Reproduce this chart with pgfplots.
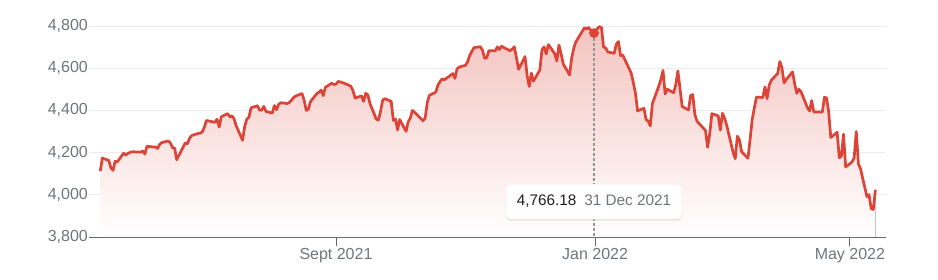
\documentclass[border=0pt]{standalone}
\usepackage{pgfplots}
\usepackage{pgfplotstable}
\pgfplotsset{compat=1.18}
\usepgfplotslibrary{fillbetween}
\usetikzlibrary{shadows}
\usepackage{fontspec}
\setmainfont{Liberation Sans}
\definecolor{gred}{RGB}{219,68,55}
\definecolor{lbl}{RGB}{112,117,122}
\definecolor{gridc}{RGB}{236,236,236}
\definecolor{axc}{RGB}{100,104,108}
\definecolor{dashc}{RGB}{150,150,150}

\pgfplotstableread{
x y
0 4112.50
1 4173.85
4 4163.29
5 4127.83
6 4115.68
7 4159.12
8 4155.86
11 4197.05
12 4188.13
13 4195.99
14 4200.88
15 4204.11
19 4202.04
20 4208.12
21 4192.85
22 4229.89
25 4226.52
26 4227.26
27 4219.55
28 4239.18
29 4247.44
32 4255.15
33 4246.59
34 4223.70
35 4221.86
36 4166.45
39 4224.79
40 4246.44
41 4241.84
42 4266.49
43 4280.70
46 4290.61
47 4291.80
48 4297.50
49 4319.94
50 4352.34
54 4343.54
55 4358.13
56 4320.82
57 4369.55
60 4384.63
61 4369.21
62 4374.30
63 4360.03
64 4327.16
67 4258.49
68 4323.06
69 4358.69
70 4367.48
71 4411.79
74 4422.30
75 4401.46
76 4400.64
77 4419.15
78 4395.26
81 4387.16
82 4423.15
83 4402.66
84 4429.10
85 4436.52
88 4432.35
89 4436.75
90 4447.70
91 4460.83
92 4468.00
95 4479.71
96 4448.08
97 4400.27
98 4405.80
99 4441.67
102 4479.53
103 4486.23
104 4496.19
105 4470.00
106 4509.37
109 4528.79
110 4522.68
111 4524.09
112 4536.95
113 4535.43
117 4520.03
118 4514.07
119 4493.28
120 4458.58
123 4468.73
124 4443.05
125 4480.70
126 4473.75
127 4432.99
130 4357.73
131 4354.19
132 4395.64
133 4448.98
134 4455.48
137 4443.11
138 4352.63
139 4359.46
140 4307.54
141 4357.04
144 4300.46
145 4345.72
146 4363.55
147 4399.76
148 4391.34
151 4361.19
152 4350.65
153 4363.80
154 4438.26
155 4471.37
158 4486.46
159 4519.63
160 4536.19
161 4549.78
162 4544.90
165 4566.48
166 4574.79
167 4551.68
168 4596.42
169 4605.38
172 4613.67
173 4630.65
174 4660.57
175 4680.06
176 4697.53
179 4701.70
180 4685.25
181 4646.71
182 4649.27
183 4682.85
186 4682.80
187 4700.90
188 4688.67
189 4704.54
190 4697.96
193 4682.94
194 4690.70
195 4701.46
197 4594.62
200 4655.27
201 4567.00
202 4513.04
203 4577.10
204 4538.43
207 4591.67
208 4686.75
209 4701.21
210 4667.45
211 4712.02
214 4668.97
215 4634.09
216 4709.85
217 4668.67
218 4620.64
221 4568.02
222 4649.23
223 4696.56
224 4725.79
228 4791.19
229 4786.35
230 4793.06
231 4778.73
232 4766.18
235 4796.56
236 4793.54
237 4700.58
238 4696.05
239 4677.03
242 4670.29
243 4713.07
244 4726.35
245 4659.03
246 4662.85
250 4577.11
251 4532.76
252 4482.73
253 4397.94
256 4410.13
257 4356.45
258 4349.93
259 4326.51
260 4431.85
263 4515.55
264 4546.54
265 4589.38
266 4477.44
267 4500.53
270 4483.87
271 4521.54
272 4587.18
273 4504.08
274 4418.64
277 4401.67
278 4471.07
279 4475.01
280 4380.26
281 4348.87
285 4304.76
286 4225.50
287 4288.70
288 4384.65
291 4373.94
292 4306.26
293 4386.54
294 4363.49
295 4328.87
298 4201.09
299 4170.70
300 4277.88
301 4259.52
302 4204.31
305 4173.11
306 4262.45
307 4357.86
308 4411.67
309 4463.12
312 4461.18
313 4511.61
314 4456.24
315 4520.16
316 4543.06
319 4575.52
320 4631.60
321 4602.45
322 4530.41
323 4545.86
326 4582.64
327 4525.12
328 4481.15
329 4500.21
330 4488.28
333 4412.53
334 4397.45
335 4446.59
336 4392.59
340 4391.69
341 4462.21
342 4459.45
343 4393.66
344 4271.78
347 4296.12
348 4175.20
349 4183.96
350 4287.50
351 4131.93
354 4155.38
355 4175.48
356 4300.17
357 4146.87
358 4123.34
361 3991.24
362 4001.05
363 3935.18
364 3930.08
365 4023.89
}\spx

\begin{document}
\begin{tikzpicture}
\begin{axis}[
  at={(0,0)}, anchor=south west,
  width=797bp, height=211bp, scale only axis,
  xmin=-5.3, xmax=370, ymin=3800, ymax=4800,
  axis x line*=bottom, axis y line*=left,
  y axis line style={draw=none},
  x axis line style={draw=axc, line width=0.9bp, -},
  xtick={111,233,353},
  xticklabels={Sept 2021, Jan 2022, May 2022},
  ytick={3800,4000,4200,4400,4600,4800},
  yticklabels={{3,800},{4,000},{4,200},{4,400},{4,600},{4,800}},
  ymajorgrids,
  grid style={draw=gridc, line width=0.9bp},
  tick align=outside,
  major tick length=9bp,
  xtick style={draw=axc, line width=0.9bp},
  ytick style={draw=none},
  tick label style={font=\fontsize{16bp}{19bp}\selectfont, text=lbl},
  yticklabel style={anchor=east, inner sep=0pt, xshift=8bp},
  xticklabel style={anchor=north, inner sep=0pt, yshift=-2bp},
  clip=false,
]
\addplot[name path=A, draw=gred, line width=2.7bp, line join=round] table {\spx};
\addplot[draw=none, name path=B] coordinates {(0,3800) (365,3800)};
\addplot[top color=gred!32!white, middle color=gred!7!white, bottom color=white, draw=none] fill between[of=A and B];
\addplot[draw=dashc, line width=1.1bp, dash pattern=on 2.5bp off 2.5bp] coordinates {(232.5,4766.18) (232.5,3800)};
\addplot[only marks, mark=*, mark size=4.6bp, color=gred] coordinates {(232.5,4766.18)};
\node[fill=white, draw=black!8, rounded corners=4bp, minimum width=176bp, minimum height=35bp,
  inner sep=0pt, drop shadow={shadow xshift=0bp, shadow yshift=-1.5bp, opacity=0.18},
  font=\fontsize{15.3bp}{18bp}\selectfont]
  at (axis cs:232.5,3968) {\textcolor{black!88}{4,766.18}\hspace{8bp}\textcolor{lbl}{31 Dec 2021}};
\end{axis}
\pgfresetboundingbox
\path[use as bounding box] (-89bp,-43bp) rectangle (849bp,237bp);
\end{tikzpicture}
\end{document}
